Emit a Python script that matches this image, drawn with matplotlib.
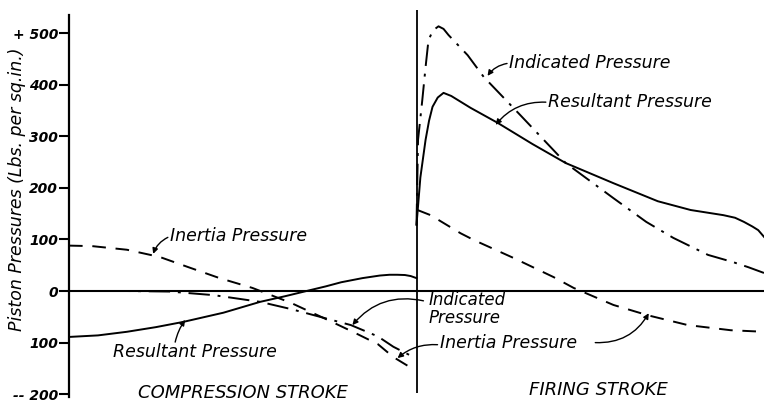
import matplotlib
matplotlib.use("Agg")
import matplotlib.pyplot as plt

# crank angle (deg) / piston pressure (lbs per sq.in.)

# compression stroke
inertia_c_x = [0, 12, 30, 47, 62, 78, 95, 115, 134, 147, 160, 168, 179]
inertia_c_y = [88, 87, 80, 66, 46, 25, 6, -23, -56, -79, -103, -128, -153]

indicated_c_x = [0, 30, 52, 75, 99, 115, 130, 146, 160, 168, 179.5]
indicated_c_y = [0, 0, -1, -8, -21, -35, -50, -66, -88, -108, -130]

resultant_c_x = [0, 15, 30, 45, 59, 80, 99, 112, 123, 133, 141, 152, 161, 166, 170, 174, 177, 180]
resultant_c_y = [-89, -86, -79, -70, -60, -42, -21, -10, 0, 9, 17, 25, 30, 31.5, 31.5, 31, 29, 25]

# firing stroke
indicated_f_x = [180, 180.8, 183, 184.7, 186.2, 188.5, 191.4, 194, 196.6, 206.5, 214.8,
                 234, 257.3, 282, 299, 313, 331, 344, 352, 360]
indicated_f_y = [128, 293, 370, 434, 486, 505, 513, 508, 496, 457, 415,
                 340, 248, 180, 134, 103, 70, 56, 46, 35]

resultant_f_x = [180, 182, 184.7, 186.5, 188.3, 191, 194, 198, 208, 222, 240,
                 257.3, 282, 305, 322, 339, 345, 349.6, 354, 357, 360]
resultant_f_y = [128, 220, 293, 330, 357, 375, 384, 378, 355, 326, 285,
                 248, 209, 174, 157, 147, 142, 134, 125, 118, 105]

inertia_f_x = [180.5, 187.3, 202.8, 209.6, 230.3, 251, 261.4, 282, 299.8, 320.5, 342.8, 360]
inertia_f_y = [157, 147, 112, 99, 64, 27, 6, -27, -47, -66, -76, -79]

tick_vals = [500, 400, 300, 200, 100, 0, -100, -200]
tick_labels = ["+ 500", "400", "300", "200", "100", "0", "100", "-- 200"]

fig = plt.figure(figsize=(7.64, 4.04), dpi=100)
ax = fig.add_axes([69 / 764, 7.2 / 404, 695 / 764, 387 / 404])
ax.set_xlim(0, 360)
ax.set_ylim(-205, 545)

lw = 1.4
dash = (0, (7, 5))
dashdot = (0, (11, 4, 1.5, 4))

ax.plot(inertia_c_x, inertia_c_y, color="k", lw=lw, linestyle=dash)
ax.plot(inertia_f_x, inertia_f_y, color="k", lw=lw, linestyle=dash)
ax.plot(indicated_c_x, indicated_c_y, color="k", lw=lw, linestyle=dashdot)
ax.plot(indicated_f_x, indicated_f_y, color="k", lw=lw, linestyle=dashdot)
ax.plot(resultant_c_x, resultant_c_y, color="k", lw=lw)
ax.plot(resultant_f_x, resultant_f_y, color="k", lw=lw)

ax.axhline(0, color="k", lw=1.5)
ax.vlines(180, -197, 545, color="k", lw=1.3)

for s in ["top", "right", "bottom"]:
    ax.spines[s].set_visible(False)
ax.spines["left"].set_bounds(-205, 535)
ax.spines["left"].set_linewidth(1.6)
ax.set_xticks([])
ax.set_yticks(tick_vals)
ax.set_yticklabels(tick_labels, fontsize=10, fontstyle="italic", fontweight="bold")
ax.tick_params(axis="y", length=7, width=1.5, pad=1)

fig.text(17 / 764, 1 - 189 / 404, "Piston Pressures (Lbs. per sq.in.)", rotation=90,
         ha="center", va="center", fontsize=12.5, fontstyle="italic")

tf = dict(fontsize=12.5, fontstyle="italic", va="center", ha="left")
arr = dict(arrowstyle="-|>", color="k", lw=1.0, mutation_scale=8, shrinkA=0, shrinkB=0)

ax.text(52.4, 107, "Inertia Pressure", **tf)
ax.annotate("", xy=(43.6, 72), xytext=(51.2, 104),
            arrowprops=dict(arr, connectionstyle="arc3,rad=0.2"))

ax.text(22.8, -118, "Resultant Pressure", **tf)
ax.annotate("", xy=(60.2, -56), xytext=(55, -99),
            arrowprops=dict(arr, connectionstyle="arc3,rad=-0.1"))

ax.text(186.2, -17, "Indicated", **dict(tf, fontsize=12))
ax.text(186.2, -52, "Pressure", **dict(tf, fontsize=12))
ax.annotate("", xy=(146.8, -66), xytext=(183.6, -19),
            arrowprops=dict(arr, connectionstyle="arc3,rad=0.3"))

ax.text(192.4, -101, "Inertia Pressure", **tf)
ax.annotate("", xy=(170.2, -130), xytext=(190.9, -104),
            arrowprops=dict(arr, connectionstyle="arc3,rad=0.2"))
ax.annotate("", xy=(300.3, -43), xytext=(272.6, -100),
            arrowprops=dict(arr, connectionstyle="arc3,rad=0.3"))

ax.text(227.7, 442, "Indicated Pressure", **tf)
ax.annotate("", xy=(216.8, 417), xytext=(226.9, 441),
            arrowprops=dict(arr, connectionstyle="arc3,rad=0.2"))

ax.text(248, 366, "Resultant Pressure", **tf)
ax.annotate("", xy=(221, 322), xytext=(247, 366),
            arrowprops=dict(arr, connectionstyle="arc3,rad=0.25"))

ax.text(90.3, -198, "COMPRESSION STROKE", fontsize=13, fontstyle="italic", ha="center", va="center")
ax.text(274.4, -192, "FIRING STROKE", fontsize=13, fontstyle="italic", ha="center", va="center")

fig.savefig("out.png", dpi=100)
